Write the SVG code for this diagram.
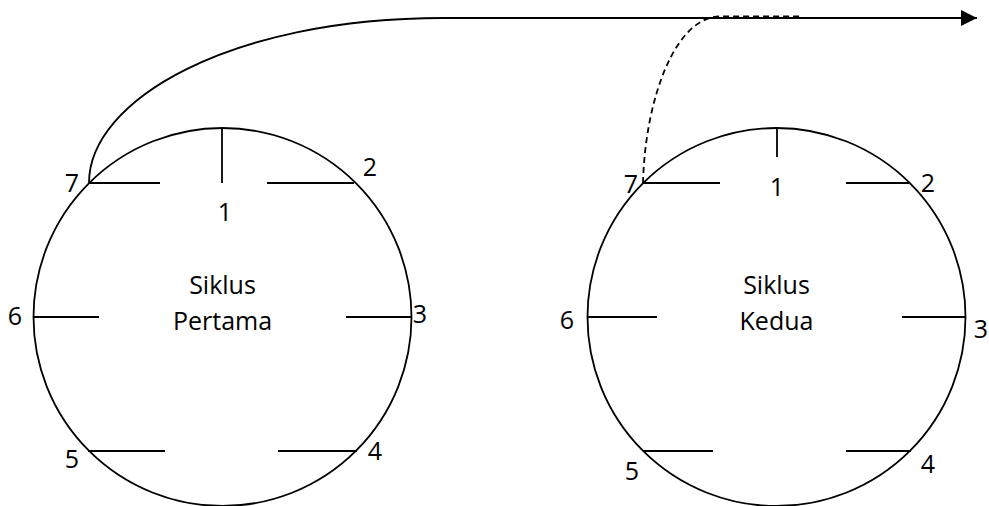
<svg xmlns="http://www.w3.org/2000/svg" width="989" height="506" viewBox="0 0 989 506">
<style>
.c{fill:none;stroke:#000;stroke-width:1.8}
.t{stroke:#000;stroke-width:1.8}
.lbl{font-family:"Open Sans","Liberation Sans",sans-serif;font-size:25px;fill:#000;text-anchor:middle}
.conn{fill:none;stroke:#000;stroke-width:1.8}
.dash{stroke-dasharray:6 4}
</style>
<defs>
<marker id="arr" markerWidth="17" markerHeight="17" refX="16" refY="8" orient="auto" markerUnits="userSpaceOnUse">
<path d="M0,0 L16,8 L0,16 Z" fill="#000"/>
</marker>
</defs>
<rect width="989" height="506" fill="#fff"/>
<g id="siklus-pertama">
<circle class="c" cx="222.5" cy="317" r="189"/>
<line class="t" x1="222" y1="128" x2="222" y2="183"/>
<line class="t" x1="89" y1="183" x2="160" y2="183"/>
<line class="t" x1="267" y1="183" x2="354" y2="183"/>
<line class="t" x1="33" y1="317" x2="99" y2="317"/>
<line class="t" x1="346" y1="317" x2="412" y2="317"/>
<line class="t" x1="88" y1="451" x2="165" y2="451"/>
<line class="t" x1="278" y1="451" x2="357" y2="451"/>
<text class="lbl" x="222.5" y="294">Siklus</text>
<text class="lbl" x="222.5" y="330">Pertama</text>
<text class="lbl" x="72" y="192">7</text>
<text class="lbl" x="225" y="221">1</text>
<text class="lbl" x="370" y="176">2</text>
<text class="lbl" x="420" y="323">3</text>
<text class="lbl" x="15" y="325">6</text>
<text class="lbl" x="72" y="468">5</text>
<text class="lbl" x="375" y="460">4</text>
</g>
<g id="siklus-kedua">
<circle class="c" cx="776.5" cy="317" r="189"/>
<line class="t" x1="777" y1="128" x2="777" y2="157"/>
<line class="t" x1="643" y1="183" x2="720" y2="183"/>
<line class="t" x1="846" y1="183" x2="909" y2="183"/>
<line class="t" x1="587" y1="317" x2="657" y2="317"/>
<line class="t" x1="902" y1="317" x2="966" y2="317"/>
<line class="t" x1="643" y1="451" x2="713" y2="451"/>
<line class="t" x1="846" y1="451" x2="911" y2="451"/>
<text class="lbl" x="776.5" y="294">Siklus</text>
<text class="lbl" x="776.5" y="330">Kedua</text>
<text class="lbl" x="631" y="193">7</text>
<text class="lbl" x="777" y="196">1</text>
<text class="lbl" x="928" y="192">2</text>
<text class="lbl" x="981" y="338">3</text>
<text class="lbl" x="567" y="329">6</text>
<text class="lbl" x="632" y="480">5</text>
<text class="lbl" x="928" y="473">4</text>
</g>
<g id="connectors">
<path class="conn" d="M89,183 C89,100 230,18 443,18 L977,18" marker-end="url(#arr)"/>
<path class="conn dash" d="M643,183 C645,100 675,16.5 720,16.5 L800,16.5"/>
</g>
</svg>
